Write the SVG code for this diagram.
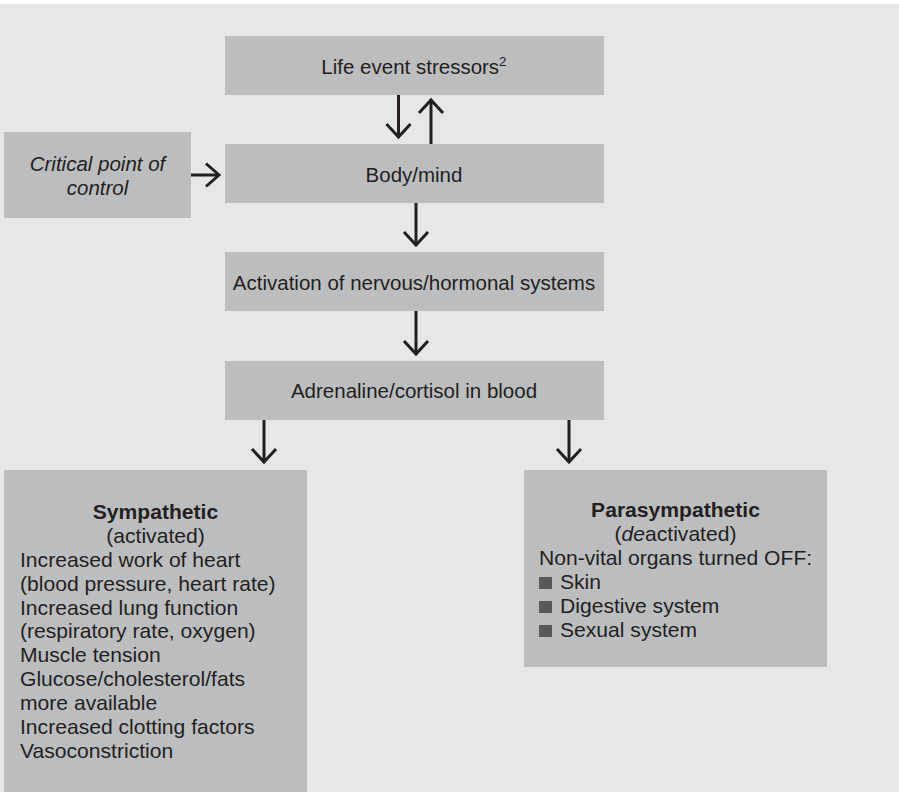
<svg xmlns="http://www.w3.org/2000/svg" width="899" height="792" viewBox="0 0 899 792">
  <style>
    .box { fill: #bcbdbf; }
    .t { font-family: "Liberation Sans", Arial, sans-serif; font-size: 20.5px; fill: #231f20; }
    .l { font-size: 21.1px; }
    .c { text-anchor: middle; }
    .b { font-weight: bold; }
    .i { font-style: italic; }
    .conn line, .conn polyline { stroke: #231f20; stroke-width: 3; fill: none; }
    .bullet { fill: #58595b; }
  </style>

  <!-- page background -->
  <rect x="0" y="0" width="899" height="792" fill="#ffffff"/>
  <rect x="0" y="4" width="899" height="788" fill="#e6e7e9"/>

  <g id="life-events">
    <rect class="box" x="225" y="36" width="379" height="59"/>
    <text class="t c" x="414" y="74">Life event stressors<tspan font-size="13.5" dy="-8">2</tspan></text>
  </g>

  <g id="control-point">
    <rect class="box" x="4" y="132" width="187" height="86"/>
    <text class="t c i" x="97.5" y="171">Critical point of</text>
    <text class="t c i" x="97.5" y="195">control</text>
  </g>

  <g id="body-mind">
    <rect class="box" x="225" y="144" width="379" height="59"/>
    <text class="t c" x="414" y="182">Body/mind</text>
  </g>

  <g id="activation">
    <rect class="box" x="225" y="252" width="379" height="59"/>
    <text class="t c" x="414" y="290">Activation of nervous/hormonal systems</text>
  </g>

  <g id="adrenaline">
    <rect class="box" x="225" y="361" width="379" height="59"/>
    <text class="t c" x="414" y="398">Adrenaline/cortisol in blood</text>
  </g>

  <g id="sympathetic">
    <rect class="box" x="4" y="470" width="303" height="322"/>
    <text class="t l c b" x="155.5" y="519">Sympathetic</text>
    <text class="t l c" x="155.5" y="543">(activated)</text>
    <text class="t l" x="20" y="567">Increased work of heart</text>
    <text class="t l" x="20" y="591">(blood pressure, heart rate)</text>
    <text class="t l" x="20" y="615">Increased lung function</text>
    <text class="t l" x="20" y="638">(respiratory rate, oxygen)</text>
    <text class="t l" x="20" y="662">Muscle tension</text>
    <text class="t l" x="20" y="686">Glucose/cholesterol/fats</text>
    <text class="t l" x="20" y="710">more available</text>
    <text class="t l" x="20" y="734">Increased clotting factors</text>
    <text class="t l" x="20" y="758">Vasoconstriction</text>
  </g>

  <g id="parasympathetic">
    <rect class="box" x="524" y="470" width="303" height="197"/>
    <text class="t l c b" x="675.5" y="517">Parasympathetic</text>
    <text class="t l c" x="675.5" y="541">(<tspan class="i">de</tspan>activated)</text>
    <text class="t l" x="539" y="565">Non-vital organs turned OFF:</text>
    <rect class="bullet" x="539" y="577" width="13" height="12"/>
    <text class="t l" x="560" y="589">Skin</text>
    <rect class="bullet" x="539" y="601" width="13" height="12"/>
    <text class="t l" x="560" y="613">Digestive system</text>
    <rect class="bullet" x="539" y="625" width="13" height="12"/>
    <text class="t l" x="560" y="637">Sexual system</text>
  </g>

  <g id="connectors" class="conn">
    <!-- stressors down to body/mind -->
    <line x1="398.5" y1="95" x2="398.5" y2="137"/>
    <polyline points="386.5,124 398.5,137 410.5,124"/>
    <!-- body/mind back up to stressors -->
    <line x1="431" y1="144" x2="431" y2="100"/>
    <polyline points="419,113 431,100 443,113"/>
    <!-- control point into body/mind -->
    <line x1="191" y1="175" x2="219" y2="175"/>
    <polyline points="206,163.5 219,175 206,186.5"/>
    <!-- body/mind to activation -->
    <line x1="416" y1="203" x2="416" y2="245"/>
    <polyline points="404,232 416,245 428,232"/>
    <!-- activation to adrenaline -->
    <line x1="416" y1="311" x2="416" y2="354"/>
    <polyline points="404,341 416,354 428,341"/>
    <!-- adrenaline to sympathetic -->
    <line x1="264" y1="420" x2="264" y2="462"/>
    <polyline points="252,449 264,462 276,449"/>
    <!-- adrenaline to parasympathetic -->
    <line x1="569" y1="420" x2="569" y2="462"/>
    <polyline points="557,449 569,462 581,449"/>
  </g>
</svg>
